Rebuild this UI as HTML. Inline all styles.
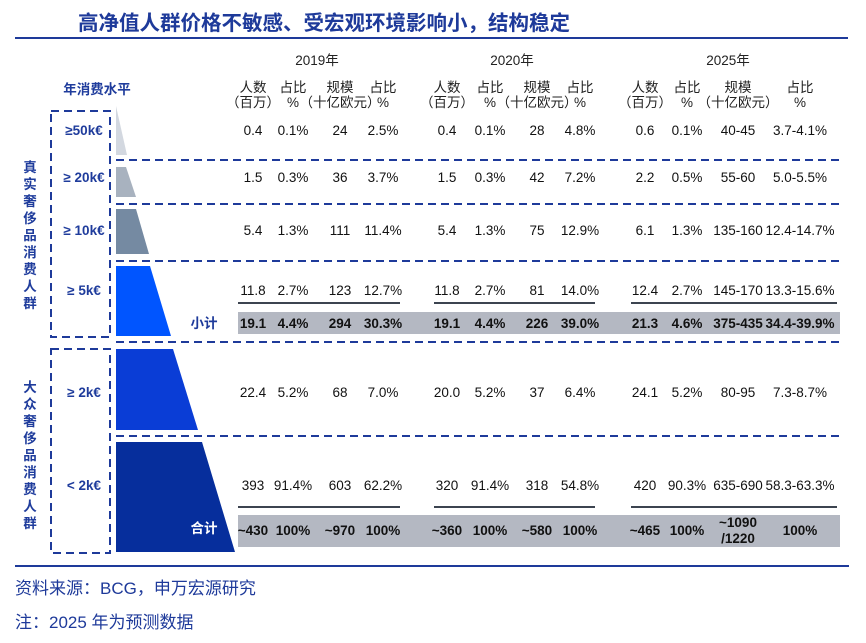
<!DOCTYPE html>
<html><head><meta charset="utf-8"><style>
html,body{margin:0;padding:0;background:#fff;}
svg{display:block;font-family:"Liberation Sans","Noto Sans CJK SC",sans-serif;}
.d{font-size:13.5px;fill:#111;text-anchor:middle;}
.b{font-size:13.5px;fill:#111;text-anchor:middle;font-weight:bold;}
.h{font-size:13.5px;fill:#222;text-anchor:middle;}
.bl{fill:#1f3c9c;font-weight:bold;font-size:13.5px;text-anchor:middle;}
</style></head><body>
<svg width="866" height="643" viewBox="0 0 866 643">
<text x="78" y="30" font-size="20.5" font-weight="bold" fill="#1e3a9a">高净值人群价格不敏感、受宏观环境影响小，结构稳定</text>
<line x1="15" y1="38" x2="848" y2="38" stroke="#1e3a9a" stroke-width="2"/>
<text x="97" y="94" class="bl">年消费水平</text>
<rect x="238" y="312" width="602" height="22" fill="#b4b8c2"/>
<rect x="238" y="515" width="602" height="32" fill="#b4b8c2"/>
<polygon points="116,106 116,106 127,155 116,155" fill="#d3d8e0"/>
<polygon points="116,167 126,167 136,197 116,197" fill="#a8b2bf"/>
<polygon points="116,209 136,209 149,254 116,254" fill="#758aa2"/>
<polygon points="116,266 150,266 171,336 116,336" fill="#0055ff"/>
<polygon points="116,349 173,349 198,430 116,430" fill="#0a3dd6"/>
<polygon points="116,442 202,442 235,552 116,552" fill="#062e9c"/>
<text x="204" y="328" font-size="13.5" font-weight="bold" fill="#1e3a9a" text-anchor="middle">小计</text>
<text x="204" y="533" font-size="13.5" font-weight="bold" fill="#fff" text-anchor="middle">合计</text>
<g stroke="#1e3a9a" stroke-width="2" stroke-dasharray="8,5" fill="none">
<line x1="116" y1="160" x2="840" y2="160"/>
<line x1="116" y1="204" x2="840" y2="204"/>
<line x1="116" y1="261" x2="840" y2="261"/>
<line x1="116" y1="342" x2="840" y2="342"/>
<line x1="116" y1="436" x2="840" y2="436"/>
<rect x="51" y="111" width="59" height="226"/>
<rect x="51" y="349" width="59" height="204"/>
</g>
<text x="84" y="135" class="bl">≥50k€</text>
<text x="84" y="182" class="bl">≥ 20k€</text>
<text x="84" y="235" class="bl">≥ 10k€</text>
<text x="84" y="295" class="bl">≥ 5k€</text>
<text x="84" y="397" class="bl">≥ 2k€</text>
<text x="84" y="490" class="bl">&lt; 2k€</text>
<g class="bl" font-size="14">
<text x="30" y="172">真</text><text x="30" y="189">实</text><text x="30" y="206">奢</text><text x="30" y="223">侈</text><text x="30" y="240">品</text><text x="30" y="257">消</text><text x="30" y="274">费</text><text x="30" y="291">人</text><text x="30" y="308">群</text>
<text x="30" y="392">大</text><text x="30" y="409">众</text><text x="30" y="426">奢</text><text x="30" y="443">侈</text><text x="30" y="460">品</text><text x="30" y="477">消</text><text x="30" y="494">费</text><text x="30" y="511">人</text><text x="30" y="528">群</text>
</g>
<text x="317" y="65" class="h">2019年</text>
<text x="512" y="65" class="h">2020年</text>
<text x="728" y="65" class="h">2025年</text>
<g class="h">
<text x="253" y="92">人数</text><text x="253" y="107">（百万）</text>
<text x="293" y="92">占比</text><text x="293" y="107">%</text>
<text x="340" y="92">规模</text><text x="340" y="107">（十亿欧元）</text>
<text x="383" y="92">占比</text><text x="383" y="107">%</text>
<text x="447" y="92">人数</text><text x="447" y="107">（百万）</text>
<text x="490" y="92">占比</text><text x="490" y="107">%</text>
<text x="537" y="92">规模</text><text x="537" y="107">（十亿欧元）</text>
<text x="580" y="92">占比</text><text x="580" y="107">%</text>
<text x="645" y="92">人数</text><text x="645" y="107">（百万）</text>
<text x="687" y="92">占比</text><text x="687" y="107">%</text>
<text x="738" y="92">规模</text><text x="738" y="107">（十亿欧元）</text>
<text x="800" y="92">占比</text><text x="800" y="107">%</text>
</g>
<g class="d">
<text x="253" y="135">0.4</text><text x="293" y="135">0.1%</text><text x="340" y="135">24</text><text x="383" y="135">2.5%</text>
<text x="447" y="135">0.4</text><text x="490" y="135">0.1%</text><text x="537" y="135">28</text><text x="580" y="135">4.8%</text>
<text x="645" y="135">0.6</text><text x="687" y="135">0.1%</text><text x="738" y="135">40-45</text><text x="800" y="135">3.7-4.1%</text>
<text x="253" y="182">1.5</text><text x="293" y="182">0.3%</text><text x="340" y="182">36</text><text x="383" y="182">3.7%</text>
<text x="447" y="182">1.5</text><text x="490" y="182">0.3%</text><text x="537" y="182">42</text><text x="580" y="182">7.2%</text>
<text x="645" y="182">2.2</text><text x="687" y="182">0.5%</text><text x="738" y="182">55-60</text><text x="800" y="182">5.0-5.5%</text>
<text x="253" y="235">5.4</text><text x="293" y="235">1.3%</text><text x="340" y="235">111</text><text x="383" y="235">11.4%</text>
<text x="447" y="235">5.4</text><text x="490" y="235">1.3%</text><text x="537" y="235">75</text><text x="580" y="235">12.9%</text>
<text x="645" y="235">6.1</text><text x="687" y="235">1.3%</text><text x="738" y="235">135-160</text><text x="800" y="235">12.4-14.7%</text>
<text x="253" y="295">11.8</text><text x="293" y="295">2.7%</text><text x="340" y="295">123</text><text x="383" y="295">12.7%</text>
<text x="447" y="295">11.8</text><text x="490" y="295">2.7%</text><text x="537" y="295">81</text><text x="580" y="295">14.0%</text>
<text x="645" y="295">12.4</text><text x="687" y="295">2.7%</text><text x="738" y="295">145-170</text><text x="800" y="295">13.3-15.6%</text>
<text x="253" y="397">22.4</text><text x="293" y="397">5.2%</text><text x="340" y="397">68</text><text x="383" y="397">7.0%</text>
<text x="447" y="397">20.0</text><text x="490" y="397">5.2%</text><text x="537" y="397">37</text><text x="580" y="397">6.4%</text>
<text x="645" y="397">24.1</text><text x="687" y="397">5.2%</text><text x="738" y="397">80-95</text><text x="800" y="397">7.3-8.7%</text>
<text x="253" y="490">393</text><text x="293" y="490">91.4%</text><text x="340" y="490">603</text><text x="383" y="490">62.2%</text>
<text x="447" y="490">320</text><text x="490" y="490">91.4%</text><text x="537" y="490">318</text><text x="580" y="490">54.8%</text>
<text x="645" y="490">420</text><text x="687" y="490">90.3%</text><text x="738" y="490">635-690</text><text x="800" y="490">58.3-63.3%</text>
</g>
<g class="b">
<text x="253" y="328">19.1</text><text x="293" y="328">4.4%</text><text x="340" y="328">294</text><text x="383" y="328">30.3%</text>
<text x="447" y="328">19.1</text><text x="490" y="328">4.4%</text><text x="537" y="328">226</text><text x="580" y="328">39.0%</text>
<text x="645" y="328">21.3</text><text x="687" y="328">4.6%</text><text x="738" y="328">375-435</text><text x="800" y="328">34.4-39.9%</text>
<text x="253" y="535">~430</text><text x="293" y="535">100%</text><text x="340" y="535">~970</text><text x="383" y="535">100%</text>
<text x="447" y="535">~360</text><text x="490" y="535">100%</text><text x="537" y="535">~580</text><text x="580" y="535">100%</text>
<text x="645" y="535">~465</text><text x="687" y="535">100%</text><text x="738" y="527">~1090</text><text x="738" y="543">/1220</text><text x="800" y="535">100%</text>
</g>
<g stroke="#3c4450" stroke-width="2">
<line x1="238" y1="303" x2="400" y2="303"/><line x1="434" y1="303" x2="595" y2="303"/><line x1="631" y1="303" x2="837" y2="303"/>
<line x1="238" y1="507" x2="400" y2="507"/><line x1="434" y1="507" x2="595" y2="507"/><line x1="631" y1="507" x2="837" y2="507"/>
</g>
<line x1="15" y1="566" x2="849" y2="566" stroke="#1e3a9a" stroke-width="2"/>
<text x="15" y="594" font-size="17" fill="#1e3a9a">资料来源：BCG，申万宏源研究</text>
<text x="15" y="628" font-size="17" fill="#1e3a9a">注：2025 年为预测数据</text>
</svg>
</body></html>
